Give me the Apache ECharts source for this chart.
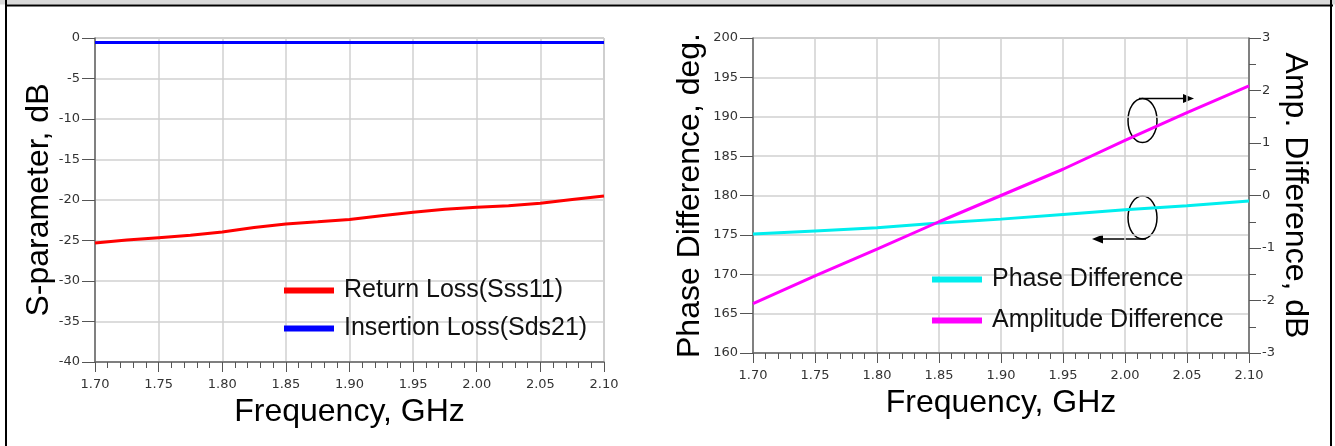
<!DOCTYPE html>
<html style="height: 100%">
   <head>
       <meta charset="utf-8">
   </head>
   <body style="height: 100%; margin: 0; background: #fff">
       <div id="container" style="width: 1335px; height: 446px"></div>
       <script type="text/javascript" src="https://cdn.jsdelivr.net/npm/echarts@6/dist/echarts.min.js"></script>
       <script type="text/javascript">
// frequency points, GHz
var freq = [1.70, 1.725, 1.75, 1.775, 1.80, 1.825, 1.85, 1.875, 1.90, 1.925, 1.95, 1.975, 2.00, 2.025, 2.05, 2.075, 2.10];
// left plot, dB
var returnLoss = [-25.3, -24.95, -24.65, -24.35, -23.95, -23.4, -22.95, -22.7, -22.4, -21.95, -21.5, -21.15, -20.9, -20.7, -20.4, -19.95, -19.5];
var insertionLoss = [-0.55, -0.55, -0.55, -0.55, -0.55, -0.55, -0.55, -0.55, -0.55, -0.55, -0.55, -0.55, -0.55, -0.55, -0.55, -0.55, -0.55];
// right plot
var freq2 = [1.70, 1.75, 1.80, 1.85, 1.90, 1.95, 2.00, 2.05, 2.10];
var phaseDiff = [175.1, 175.5, 175.9, 176.5, 177.0, 177.6, 178.2, 178.7, 179.3];
var ampDiff = [-2.06, -1.53, -1.02, -0.50, 0.0, 0.50, 1.05, 1.58, 2.09];

var legendLeft = ['Return Loss(Sss11)', 'Insertion Loss(Sds21)'];
var legendRight = ['Phase Difference', 'Amplitude Difference'];

function pairs(xs, ys) {
    return xs.map(function (x, i) { return [x, ys[i]]; });
}

var tickFont = { fontFamily: 'DejaVu Sans', fontSize: 13, color: '#333' };
var nameFont = { fontFamily: 'Liberation Sans', fontSize: 32, color: '#000' };
var gridLine = { show: true, lineStyle: { color: '#d0d0d0', width: 1.5 } };
var axisLine = { show: true, onZero: false, lineStyle: { color: '#666', width: 1.5 } };
var legendText = { fontFamily: 'Liberation Sans', fontSize: 25, color: '#111', lineHeight: 25, padding: [0, 0, 0, 5] };

function xAxisFor(idx) {
    return {
        type: 'value', gridIndex: idx, min: 1.7, max: 2.1, interval: 0.05,
        name: 'Frequency, GHz', nameLocation: 'middle', nameGap: 31, nameTextStyle: nameFont,
        axisLine: axisLine,
        axisTick: { show: true, length: 10, lineStyle: { color: '#555' } },
        minorTick: { show: true, splitNumber: 5, length: 6, lineStyle: { color: '#555' } },
        axisLabel: Object.assign({ margin: 16, formatter: function (v) { return v.toFixed(2); } }, tickFont),
        splitLine: gridLine
    };
}

var dom = document.getElementById("container");
var myChart = echarts.init(dom);
var option = {
    animation: false,
    backgroundColor: '#fff',
    grid: [
        { left: 95, top: 38, width: 509, height: 324, show: true, borderColor: '#999', borderWidth: 1 },
        { left: 753, top: 38, width: 496, height: 315, show: true, borderColor: '#999', borderWidth: 1 }
    ],
    xAxis: [xAxisFor(0), xAxisFor(1)],
    yAxis: [
        {
            type: 'value', gridIndex: 0, min: -40, max: 0, interval: 5,
            name: 'S-parameter, dB', nameLocation: 'middle', nameGap: 39, nameTextStyle: nameFont,
            axisLine: axisLine,
            axisTick: { show: true, length: 13, lineStyle: { color: '#555' } },
            axisLabel: Object.assign({ margin: 15 }, tickFont),
            splitLine: gridLine
        },
        {
            type: 'value', gridIndex: 1, min: 160, max: 200, interval: 5,
            name: 'Phase Difference, deg.', nameLocation: 'middle', nameGap: 47, nameTextStyle: nameFont,
            axisLine: axisLine,
            axisTick: { show: true, length: 13, lineStyle: { color: '#555' } },
            axisLabel: Object.assign({ margin: 15 }, tickFont),
            splitLine: gridLine
        },
        {
            type: 'value', gridIndex: 1, position: 'right', min: -3, max: 3, interval: 1,
            name: 'Amp. Difference, dB', nameLocation: 'middle', nameGap: 29, nameRotate: -90,
            nameTextStyle: nameFont,
            axisLine: axisLine,
            axisTick: { show: true, length: 12, lineStyle: { color: '#555' } },
            minorTick: { show: true, splitNumber: 2, length: 7, lineStyle: { color: '#555' } },
            axisLabel: Object.assign({ margin: 13 }, tickFont),
            splitLine: { show: false }
        }
    ],
    legend: [
        {
            data: legendLeft, orient: 'vertical', left: 279, top: 273, itemGap: 13,
            icon: 'rect', itemWidth: 50, itemHeight: 6, textStyle: legendText
        },
        {
            data: legendRight, orient: 'vertical', left: 927, top: 262, itemGap: 16,
            icon: 'rect', itemWidth: 50, itemHeight: 6, textStyle: legendText
        }
    ],
    series: [
        {
            name: legendLeft[0], type: 'line', xAxisIndex: 0, yAxisIndex: 0, showSymbol: false,
            color: '#ff0000', lineStyle: { width: 3 }, data: pairs(freq, returnLoss)
        },
        {
            name: legendLeft[1], type: 'line', xAxisIndex: 0, yAxisIndex: 0, showSymbol: false,
            color: '#0000ff', lineStyle: { width: 3 }, data: pairs(freq, insertionLoss)
        },
        {
            name: legendRight[0], type: 'line', xAxisIndex: 1, yAxisIndex: 1, showSymbol: false,
            color: '#00eeee', lineStyle: { width: 3 }, data: pairs(freq2, phaseDiff)
        },
        {
            name: legendRight[1], type: 'line', xAxisIndex: 1, yAxisIndex: 2, showSymbol: false,
            color: '#ff00ff', lineStyle: { width: 3 }, data: pairs(freq2, ampDiff)
        }
    ],
    graphic: [
        // page frame
        { type: 'rect', shape: { x: 0, y: 0, width: 1335, height: 4.5 }, style: { fill: '#d9d9d9' } },
        { type: 'line', shape: { x1: 5, y1: 5.5, x2: 1333, y2: 5.5 }, style: { stroke: '#000', lineWidth: 2 } },
        { type: 'line', shape: { x1: 6, y1: 0, x2: 6, y2: 446 }, style: { stroke: '#000', lineWidth: 2 } },
        { type: 'line', shape: { x1: 1331, y1: 0, x2: 1331, y2: 446 }, style: { stroke: '#000', lineWidth: 2 } },
        // axis markers: amplitude -> right axis
        { type: 'ellipse', shape: { cx: 1142.5, cy: 120.5, rx: 14.5, ry: 22 }, style: { fill: null, stroke: '#000', lineWidth: 1.5 } },
        { type: 'line', shape: { x1: 1139, y1: 98.5, x2: 1185, y2: 98.5 }, style: { stroke: '#000', lineWidth: 1.5 } },
        { type: 'polygon', shape: { points: [[1194, 98.5], [1183, 94], [1183, 103]] }, style: { fill: '#000' } },
        // phase -> left axis
        { type: 'ellipse', shape: { cx: 1142.5, cy: 217.5, rx: 14.5, ry: 21.5 }, style: { fill: null, stroke: '#000', lineWidth: 1.5 } },
        { type: 'line', shape: { x1: 1146, y1: 239, x2: 1101, y2: 239 }, style: { stroke: '#000', lineWidth: 1.5 } },
        { type: 'polygon', shape: { points: [[1092, 239], [1103, 234.5], [1103, 243.5]] }, style: { fill: '#000' } }
    ]
};
myChart.setOption(option, true);
       </script>
   </body>
</html>
